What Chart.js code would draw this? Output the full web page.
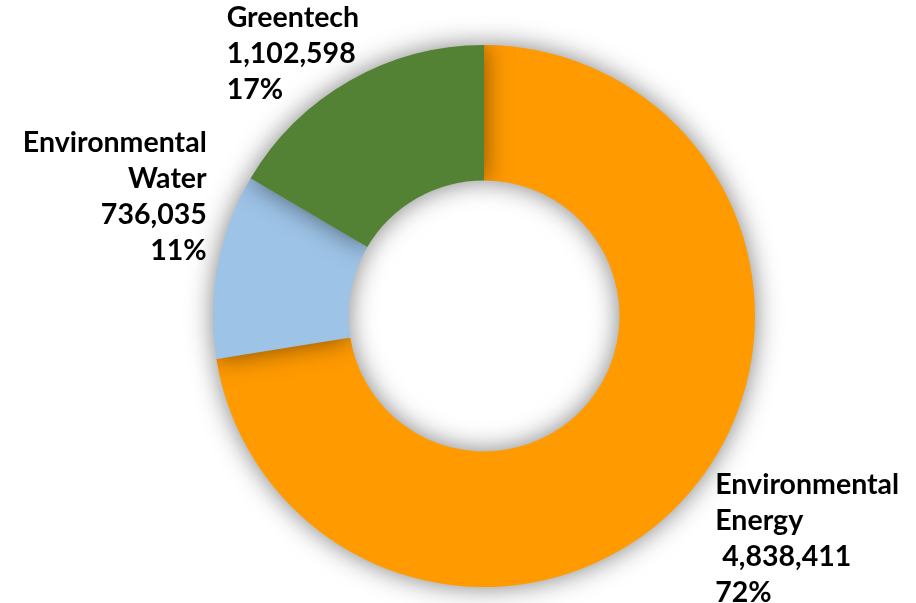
<!DOCTYPE html>
<html>
<head>
<meta charset="utf-8">
<script src="https://cdn.jsdelivr.net/npm/chart.js@4/dist/chart.umd.min.js"></script>
<style>
  html, body { margin: 0; padding: 0; background: #fff; }
  #wrap { width: 916px; height: 603px; }
</style>
</head>
<body>
<div id="wrap"><canvas id="donut" width="916" height="603"></canvas></div>
<script>
// Data
const categories = ['Environmental Energy', 'Environmental Water', 'Greentech'];
const categoryLines = [['Environmental', 'Energy'], ['Environmental', 'Water'], ['Greentech']];
const values = [4838411, 736035, 1102598];
const sliceColors = ['#FF9A00', '#9DC3E6', '#548235'];

const total = values.reduce((a, b) => a + b, 0);

// soft glow behind the ring
const shadowPlugin = {
    id: 'ringShadow',
    beforeDatasetDraw(chart) {
        const ctx = chart.ctx;
        ctx.save();
        ctx.shadowColor = 'rgba(0, 0, 0, 0.5)';
        ctx.shadowBlur = 26;
    },
    afterDatasetDraw(chart) {
        chart.ctx.restore();
    }
};

// labels placed next to each slice's outer edge
const labelPlugin = {
    id: 'sliceLabels',
    afterDatasetsDraw(chart) {
        const ctx = chart.ctx;
        const meta = chart.getDatasetMeta(0);
        // where each label sits relative to the slice's outer mid point
        const place = [
            { align: 'left', dx: 25, dy: -7 },
            { align: 'right', dx: -11, dy: -123 },
            { align: 'left', dx: -123, dy: -63 }
        ];
        ctx.save();
        ctx.font = 'bold 28.5px Lato, "Open Sans", sans-serif';
        ctx.fillStyle = '#000';
        ctx.textBaseline = 'middle';
        meta.data.forEach((arc, i) => {
            const mid = (arc.startAngle + arc.endAngle) / 2;
            const ex = arc.x + Math.cos(mid) * arc.outerRadius;
            const ey = arc.y + Math.sin(mid) * arc.outerRadius;
            const lines = categoryLines[i].slice();
            let num = values[i].toLocaleString('en-US');
            if (i === 0) num = ' ' + num;
            lines.push(num);
            lines.push(Math.round(values[i] / total * 100) + '%');
            ctx.textAlign = place[i].align;
            lines.forEach((t, k) => {
                ctx.fillText(t, ex + place[i].dx, ey + place[i].dy + k * 36);
            });
        });
        ctx.restore();
    }
};

const ctx = document.getElementById('donut').getContext('2d');
const donut = new Chart(ctx, {
    type: 'doughnut',
    data: {
        labels: categories,
        datasets: [{
            data: values,
            backgroundColor: sliceColors,
            borderWidth: 0
        }]
    },
    options: {
        responsive: false,
        animation: false,
        cutout: '50%',
        layout: {
            padding: { left: 213, right: 161, top: 45, bottom: 16 }
        },
        plugins: {
            legend: { display: false },
            tooltip: { enabled: false }
        }
    },
    plugins: [shadowPlugin, labelPlugin]
});
</script>
</body>
</html>
